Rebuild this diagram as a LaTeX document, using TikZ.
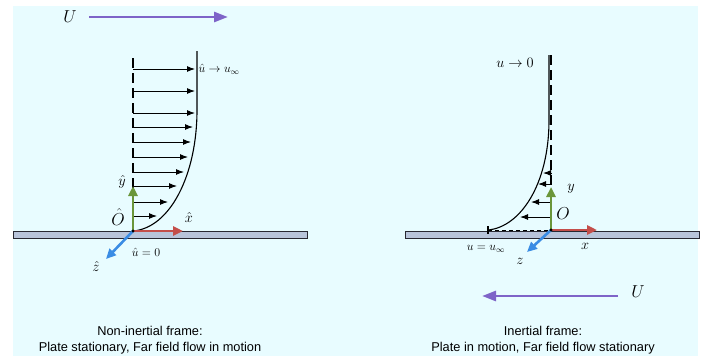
\documentclass[tikz,border=0pt]{standalone}
\usepackage{xcolor}
\usepackage{amsmath}
\usepackage{fontspec}
\usepackage{tikz}
\usetikzlibrary{arrows.meta, positioning, calc}
\newfontfamily\capfont{Liberation Sans}
\definecolor{mybg}{RGB}{232,252,255}
\definecolor{myplate}{RGB}{184,196,218}
\definecolor{mydark}{RGB}{40,40,50}
\definecolor{mypurple}{RGB}{126,100,200}
\definecolor{mygreen}{RGB}{106,150,58}
\definecolor{myred}{RGB}{196,78,74}
\definecolor{myblue}{RGB}{58,140,228}
\tikzset{
  vel/.style={-{Latex[length=8pt,width=6pt]}, line width=1pt, color=black},
  axisx/.style={-{Triangle[length=10pt,width=9pt]}, line width=2.6pt, color=myred},
  axisy/.style={-{Triangle[length=10pt,width=9pt]}, line width=2.6pt, color=mygreen},
  axisz/.style={-{Triangle[length=10pt,width=9pt]}, line width=2.6pt, color=myblue},
  farflow/.style={-{Triangle[length=14pt,width=10pt]}, line width=2.8pt, color=mypurple},
  plate/.style={draw=mydark, fill=myplate, line width=0.8pt},
  profile/.style={line width=1.1pt, color=black},
  refline/.style={line width=1.1pt, dash pattern=on 10pt off 5pt, color=black},
  caption/.style={font=\capfont\fontsize{12.8}{16}\selectfont, align=center, inner sep=0pt},
  lbl/.style={inner sep=0.5pt, font=\fontsize{14}{14}\selectfont},
  biglbl/.style={inner sep=0.5pt, font=\fontsize{16}{16}\selectfont},
  smalllbl/.style={inner sep=0.5pt, font=\fontsize{12}{12}\selectfont}
}

\begin{document}
\begin{tikzpicture}[x=1pt, y=-1pt]
  \useasboundingbox (0,0) rectangle (703,356);
  \fill[mybg] (13,6) rectangle (698,356);

  % ---- non-inertial frame (left) ----
  \coordinate (Oh) at (133,231);
  \node[biglbl] (Uleft) at (70,17) {$U$};
  \coordinate (Uhead) at (228,17);
  \draw[farflow] ($(Uleft.east)+(12,0)$) -- (Uhead);

  \draw[plate] (13,231) rectangle (307,238);
  \draw[refline] (133,58) -- (Oh);
  \foreach \yy/\tip in {69/195, 91/195, 113/195, 127/193, 142/191,
                        157/188, 172/184, 186/177, 202/168, 216/157}
    \draw[vel] (133,\yy) -- (\tip,\yy);
  \draw[profile] (Oh) .. controls (170,228) and (197,175) .. (197,110) -- (197,51);

  \coordinate (xh) at (183,231);
  \coordinate (yh) at (133,186);
  \coordinate (zh) at (106,259);
  \draw[axisx] (Oh) -- (xh);
  \draw[axisy] (Oh) -- (yh);
  \draw[axisz] (Oh) -- (zh);
  \fill (Oh) circle (1.6pt);

  \node[smalllbl, anchor=west] (uinf) at (198,69) {$\hat{u}\to u_{\infty}$};
  \node[lbl] (yhat) at (122,182) {$\hat{y}$};
  \node[biglbl] (Ohat) at (118,217) {$\hat{O}$};
  \node[lbl] (xhat) at (189,217) {$\hat{x}$};
  \node[lbl] (zhat) at (96,266) {$\hat{z}$};
  \node[smalllbl] (uzero) at (146,252) {$\hat{u}=0$};

  \node[caption] (capleft) at (150,340) {Non-inertial frame:\\Plate stationary, Far field flow in motion};

  % ---- inertial frame (right) ----
  \coordinate (O) at (551,230);
  \coordinate (tick) at (488,230);
  \draw[plate] (405,231) rectangle (699,238);
  \draw[refline, line width=1.4pt] (551,55) -- (O);
  \draw[line width=1pt, dash pattern=on 4pt off 3pt] (tick) -- (O);
  \draw[line width=1.1pt] (488,226) -- (488,234);
  \foreach \yy/\tip in {173/543, 184/538, 202/531, 217/520}
    \draw[vel] (551,\yy) -- (\tip,\yy);
  \draw[profile] (tick) .. controls (520,227) and (549,185) .. (549,120) -- (549,55);

  \coordinate (x) at (597,230);
  \coordinate (y) at (551,187);
  \coordinate (z) at (527,252);
  \draw[axisx] (O) -- (x);
  \draw[axisy] (O) -- (y);
  \draw[axisz] (O) -- (z);
  \fill (O) circle (1.6pt);

  \node[lbl] (uzeroR) at (515,63) {$u\to 0$};
  \node[lbl] (ylbl) at (571,189) {$y$};
  \node[biglbl] (Olbl) at (563,214) {$O$};
  \node[lbl] (xlbl) at (585,246) {$x$};
  \node[lbl] (zlbl) at (520,261) {$z$};
  \node[smalllbl] (uinfR) at (486,249) {$u=u_{\infty}$};

  \node[biglbl] (Uright) at (638,292) {$U$};
  \coordinate (Utail) at (618,296);
  \coordinate (UheadR) at (482,296);
  \draw[farflow] (Utail) -- (UheadR);

  \node[caption] (capright) at (543,340) {Inertial frame:\\Plate in motion, Far field flow stationary};
\end{tikzpicture}
\end{document}
